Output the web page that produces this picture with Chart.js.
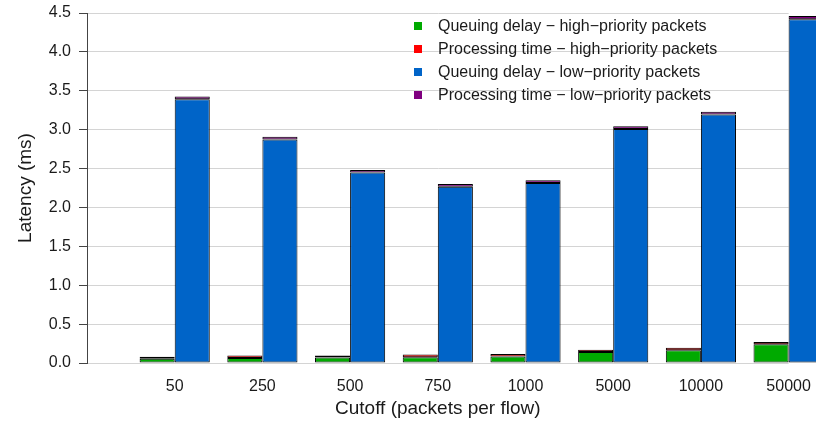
<!DOCTYPE html>
<html>
<head>
<meta charset="utf-8">
<script src="https://cdn.jsdelivr.net/npm/chart.js@4"></script>
<style>
  html, body { margin: 0; padding: 0; background: #fff; }
  #wrap { width: 816px; height: 424px; }
</style>
</head>
<body>
<div id="wrap"><canvas id="c" width="816" height="424"></canvas></div>
<script>
// Cutoff values (packets per flow)
const categories = ['50', '250', '500', '750', '1000', '5000', '10000', '50000'];

// Latency components in ms
const highQueue = [0.055, 0.065, 0.07, 0.075, 0.085, 0.14, 0.165, 0.24];
const highProc  = [0.025, 0.03, 0.025, 0.035, 0.03, 0.03, 0.03, 0.03];
const lowQueue  = [3.39, 2.875, 2.45, 2.265, 2.315, 3.01, 3.195, 4.42];
const lowProc   = [0.035, 0.035, 0.03, 0.035, 0.035, 0.035, 0.035, 0.04];

const yTicks = { min: 0, max: 4.5, step: 0.5 };

const FONT = '"Liberation Sans", Arial, Helvetica, sans-serif';

// a blank leading slot keeps the first group away from the y axis
const labels = [''].concat(categories);
const pad = arr => [null].concat(arr);

const series = [
  { label: 'Queuing delay \u2212 high\u2212priority packets',   data: highQueue, color: '#00AA00', stack: 'high' },
  { label: 'Processing time \u2212 high\u2212priority packets', data: highProc,  color: '#FF0000', stack: 'high' },
  { label: 'Queuing delay \u2212 low\u2212priority packets',    data: lowQueue,  color: '#0064C8', stack: 'low' },
  { label: 'Processing time \u2212 low\u2212priority packets',  data: lowProc,   color: '#7F007F', stack: 'low' }
];

// legend drawn inside the plot, over the grid
const overlayLegend = {
  id: 'overlayLegend',
  afterDatasetsDraw(chart) {
    const ctx = chart.ctx;
    ctx.save();
    ctx.font = '16px ' + FONT;
    ctx.textBaseline = 'middle';
    ctx.textAlign = 'left';
    chart.data.datasets.forEach((ds, i) => {
      const y = 26 + i * 23;
      ctx.fillStyle = ds.backgroundColor;
      ctx.fillRect(414, y - 4, 8, 8);
      ctx.fillStyle = '#1a1a1a';
      ctx.fillText(ds.label, 438, y + 1);
    });
    ctx.restore();
  }
};

new Chart(document.getElementById('c'), {
  type: 'bar',
  data: {
    labels: labels,
    datasets: series.map(s => ({
      label: s.label,
      data: pad(s.data),
      stack: s.stack,
      backgroundColor: s.color,
      borderColor: '#000',
      borderWidth: 1,
      borderSkipped: false,
      categoryPercentage: 0.8,
      barPercentage: 1.0,
      clip: false
    }))
  },
  options: {
    responsive: false,
    animation: false,
    devicePixelRatio: 1,
    layout: { padding: { top: 13, right: 27.4, left: 0, bottom: 0 } },
    plugins: {
      legend: { display: false },
      tooltip: { enabled: false }
    },
    scales: {
      x: {
        stacked: true,
        offset: false,
        grid: { display: false, drawTicks: false },
        border: { display: false },
        ticks: {
          color: '#1a1a1a',
          font: { family: FONT, size: 16 },
          padding: 14,
          maxRotation: 0,
          autoSkip: false
        },
        title: {
          display: true,
          text: 'Cutoff (packets per flow)',
          color: '#1a1a1a',
          font: { family: FONT, size: 19 },
          padding: { top: 0, bottom: 4 }
        },
        afterFit(scale) {
          scale.height = 61;
          scale.paddingLeft = 0;
          scale.paddingRight = 0;
        }
      },
      y: {
        stacked: true,
        min: yTicks.min,
        max: yTicks.max,
        grid: {
          color: '#d4d4d4',
          lineWidth: 1,
          tickLength: 8,
          tickColor: '#444'
        },
        border: { display: true, color: '#444', width: 1 },
        ticks: {
          stepSize: yTicks.step,
          color: '#1a1a1a',
          font: { family: FONT, size: 16 },
          padding: 8,
          callback: v => Number(v).toFixed(1)
        },
        title: {
          display: true,
          text: 'Latency (ms)',
          color: '#1a1a1a',
          font: { family: FONT, size: 19 },
          padding: { top: 14, bottom: 0 }
        },
        afterFit(scale) {
          scale.width = 87;
          scale.paddingTop = 0;
          scale.paddingBottom = 0;
        }
      }
    }
  },
  plugins: [overlayLegend]
});
</script>
</body>
</html>
